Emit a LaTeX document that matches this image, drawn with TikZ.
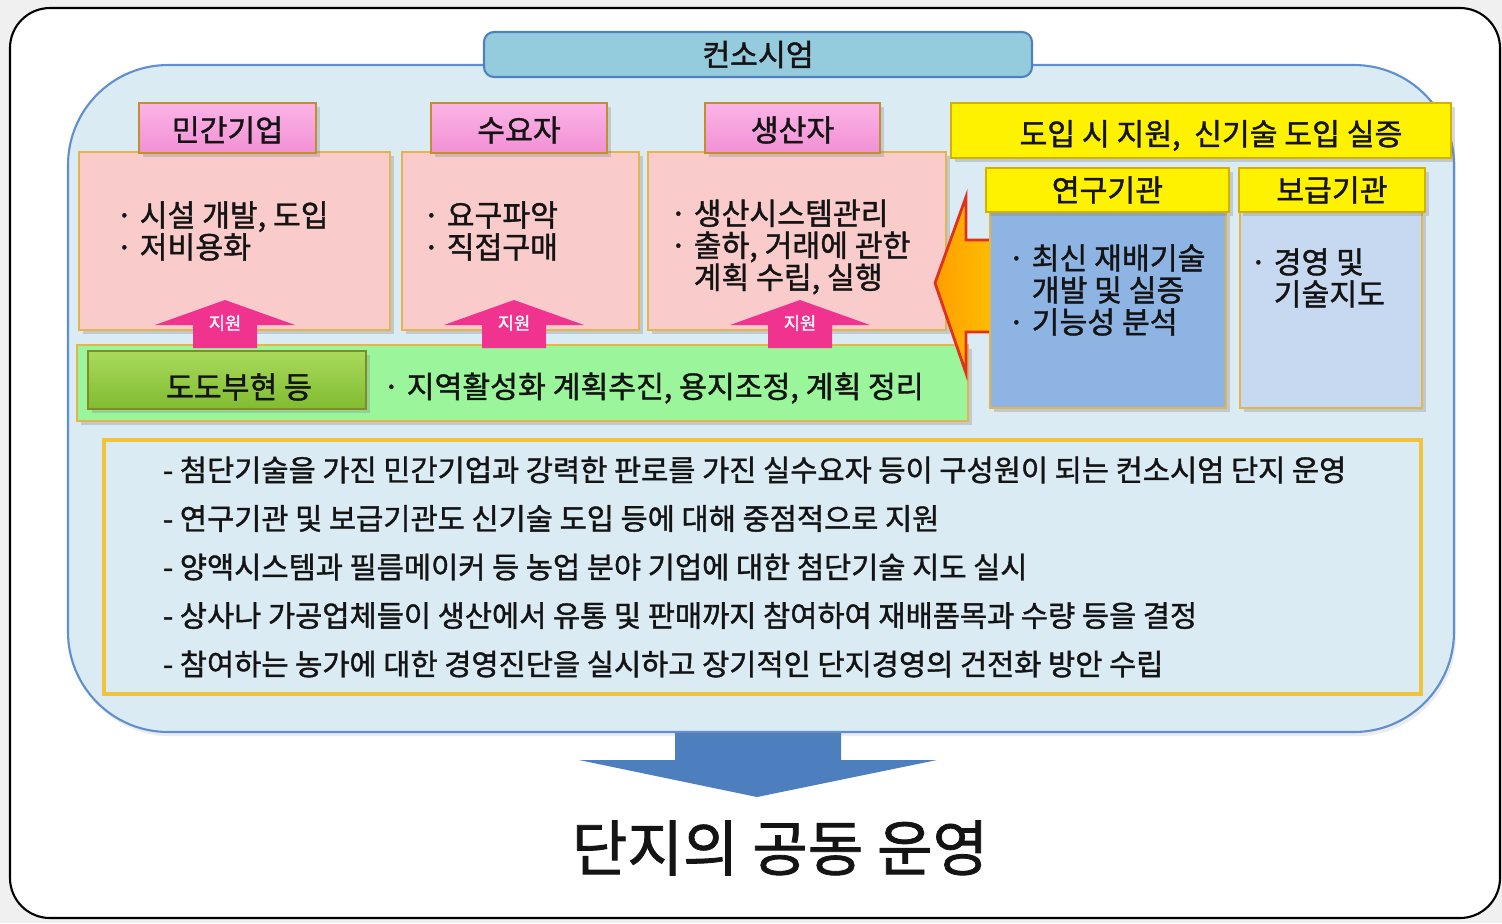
\documentclass[tikz,border=0pt]{standalone}
\usepackage{fontspec}
\setmainfont{Noto Sans CJK KR}[RawFeature={embolden=1.3}]
\usetikzlibrary{fit,shadows}
\definecolor{bggray}{HTML}{F0F0F0}
\definecolor{panelfill}{HTML}{DAEBF4}
\definecolor{panelline}{HTML}{5F8FD0}
\definecolor{titlefill}{HTML}{95CCDD}
\definecolor{titleline}{HTML}{4F81BD}
\definecolor{pheadtop}{HTML}{FBB4E6}
\definecolor{pheadbot}{HTML}{F290D4}
\definecolor{pheadline}{HTML}{BF8F30}
\definecolor{pbodyfill}{HTML}{FACBCB}
\definecolor{goldline}{HTML}{E2B550}
\definecolor{greenfill}{HTML}{9BF59B}
\definecolor{gboxtop}{HTML}{A9D95C}
\definecolor{gboxbot}{HTML}{80BC30}
\definecolor{gboxline}{HTML}{7F8C2A}
\definecolor{yellowline}{HTML}{D4B000}
\definecolor{bluedark}{HTML}{8EB4E3}
\definecolor{bluelight}{HTML}{C6D9F0}
\definecolor{arrpinkc}{HTML}{F0338F}
\definecolor{orangetop}{HTML}{FFC000}
\definecolor{orangebot}{HTML}{FF9E00}
\definecolor{arrred}{HTML}{E03020}
\definecolor{bluearrc}{HTML}{4D7EBD}
\definecolor{infoline}{HTML}{EFC43A}
\definecolor{txt}{HTML}{141414}
\newcommand\txtA{\fontsize{8.6pt}{9.1pt}\selectfont}
\newcommand\txtH{\fontsize{8.6pt}{10pt}\selectfont}
\newcommand\txtB{\fontsize{8.4pt}{13.8pt}\selectfont}
\tikzset{
  every node/.style={inner sep=0pt, outer sep=0pt, text=txt},
  every label/.style={inner sep=0pt, text=txt, font=\txtH},
  shad/.style={drop shadow={shadow xshift=1.2pt, shadow yshift=-1.2pt, opacity=0.3}},
  outerbox/.style={draw=black, line width=0.6pt, fill=white, rounded corners=0.4cm},
  panelbox/.style={draw=panelline, line width=0.6pt, fill=panelfill, rounded corners=1cm, drop shadow={shadow xshift=0.6pt, shadow yshift=-1.2pt, opacity=0.15}},
  titlebox/.style={draw=titleline, line width=0.6pt, fill=titlefill, rounded corners=0.1cm},
  phead/.style={draw=pheadline, line width=0.8pt, top color=pheadtop, bottom color=pheadbot, shad},
  pbody/.style={draw=goldline, line width=0.7pt, fill=pbodyfill, shad},
  greenbar/.style={draw=goldline, line width=0.7pt, fill=greenfill, shad},
  gbox/.style={draw=gboxline, line width=0.8pt, top color=gboxtop, bottom color=gboxbot, shad},
  yhead/.style={draw=yellowline, line width=0.7pt, fill=yellow, shad},
  bdark/.style={draw=goldline, line width=0.7pt, fill=bluedark, shad},
  blight/.style={draw=goldline, line width=0.7pt, fill=bluelight, shad},
  infobox/.style={draw=infoline, line width=1pt, fill=panelfill},
  arrpink/.style={fill=arrpinkc},
  arrlbl/.style={text=white, font=\fontsize{5pt}{6pt}\selectfont},
  orangearr/.style={draw=arrred, line width=0.8pt, left color=orangebot, right color=orangetop},
  bluearr/.style={fill=bluearrc},
  btxt/.style={align=left, anchor=west, font=\txtA},
}
\newcommand\supparrow[2]{%
  \path[arrpink] (#1-32,348) -- (#1-32,325) -- (#1-70,325) -- (#1,300) -- (#1+70,325) -- (#1+32,325) -- (#1+32,348) -- cycle;
  \node[arrlbl] (#2) at (#1,323) {지원};}
\begin{document}
\begin{tikzpicture}[x=0.01cm,y=-0.01cm]
\useasboundingbox (0,0) rectangle (1502,923);
\fill[bggray] (0,0) rectangle (1502,923);
\node[outerbox, fit={(10,8) (1500,918)}] (outer) {};
% bottom arrow (behind panel)
\path[bluearr] (675,725) -- (841,725) -- (841,760) -- (937,760) -- (757,797) -- (579,760) -- (675,760) -- cycle;
\node[panelbox, fit={(68,65) (1454,732)}] (panel) {};
\node[titlebox, fit={(484,32) (1032,77)}, label=center:컨소시엄] (title) {};
% pink bodies
\node[pbody, fit={(79,152) (390,330)}] (b1) {};
\node[pbody, fit={(402,152) (639,330)}] (b2) {};
\node[pbody, fit={(648,152) (946,330)}] (b3) {};
\node[phead, fit={(139,103) (316,153)}, label={[yshift=-0.02cm]center:민간기업}] (h1) {};
\node[phead, fit={(431,103) (607,153)}, label={[yshift=-0.02cm]center:수요자}] (h2) {};
\node[phead, fit={(705,103) (880,153)}, label={[yshift=-0.02cm]center:생산자}] (h3) {};
\node[btxt] (t1) at (116,231) {· 시설 개발, 도입\\· 저비용화};
\node[btxt] (t2) at (423,231) {· 요구파악\\· 직접구매};
\node[btxt] (t3) at (670,247) {· 생산시스템관리\\· 출하, 거래에 관한\\\phantom{· }계획 수립, 실행};
% green bar
\node[greenbar, fit={(77,345) (968,421)}] (gbar) {};
\node[gbox, fit={(88,351) (366,409)}, label={[xshift=0.12cm, yshift=-0.07cm]center:도도부현 등}] (gbox) {};
\node[btxt] (gtxt) at (383,388) {· 지역활성화 계획추진, 용지조정, 계획 정리};
% support arrows
\supparrow{225}{s1}
\supparrow{514}{s2}
\supparrow{800}{s3}
% orange arrow
\path[orangearr] (935,283) -- (966,197) -- (966,240) -- (998,240) -- (998,332) -- (966,332) -- (966,373) -- cycle;
% right section
\node[yhead, fit={(951,103) (1451,158)}, label={[xshift=0.1cm, yshift=-0.05cm]center:도입 시 지원,\ \ 신기술 도입 실증}] (yh) {};
\node[bdark, fit={(990,212) (1226,408)}] (rb1) {};
\node[blight, fit={(1240,212) (1422,408)}] (rb2) {};
\node[yhead, fit={(986,168) (1229,212)}, label=center:연구기관] (rh1) {};
\node[yhead, fit={(1239,168) (1425,212)}, label=center:보급기관] (rh2) {};
\node[btxt] (rt1) at (1008,290) {· 최신 재배기술\\\phantom{· }개발 및 실증\\· 기능성 분석};
\node[btxt] (rt2) at (1250,278) {· 경영 및\\\phantom{· }기술지도};
% info box
\node[infobox, fit={(104,440) (1421,694)}] (info) {};
\node[align=left, anchor=west, font=\txtB] (itxt) at (163,567) {- 첨단기술을 가진 민간기업과 강력한 판로를 가진 실수요자 등이 구성원이 되는 컨소시엄 단지 운영\\- 연구기관 및 보급기관도 신기술 도입 등에 대해 중점적으로 지원\\- 양액시스템과 필름메이커 등 농업 분야 기업에 대한 첨단기술 지도 실시\\- 상사나 가공업체들이 생산에서 유통 및 판매까지 참여하여 재배품목과 수량 등을 결정\\- 참여하는 농가에 대한 경영진단을 실시하고 장기적인 단지경영의 건전화 방안 수립};
\node[font=\fontsize{17.2pt}{20pt}\selectfont] (result) at (780,848) {단지의 공동 운영};
\end{tikzpicture}
\end{document}
